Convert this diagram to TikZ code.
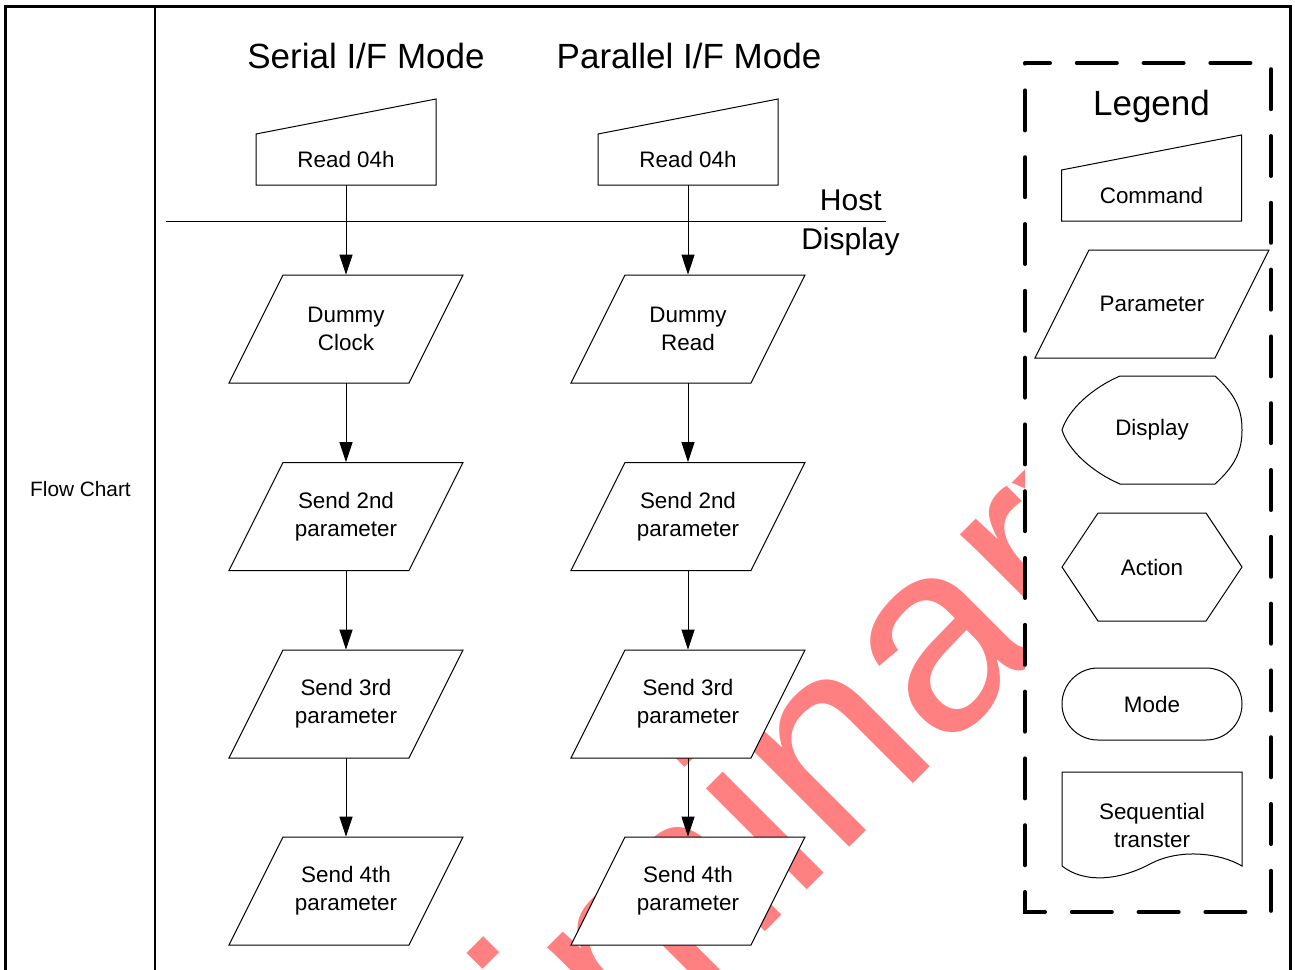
\documentclass[tikz,border=0pt]{standalone}
\usepackage{fontspec}
\setmainfont{Liberation Sans}
\usepackage{tikz}
\usetikzlibrary{arrows.meta}

\definecolor{wmred}{HTML}{FF8080}

\tikzset{
  lbl/.style={font=\fontsize{11.2}{14}\selectfont, align=center, inner sep=0pt},
  title/.style={font=\fontsize{17.5}{21}\selectfont, inner sep=0pt},
  side/.style={font=\fontsize{15}{18}\selectfont, inner sep=0pt},
  shape line/.style={draw=black, line width=0.5pt, fill=white},
  flow/.style={-{Triangle[length=10pt,width=6.5pt]}, line width=0.5pt},
  legend frame/.style={draw=black, fill=white, line width=2pt, line cap=round,
    dash pattern=on 20pt off 13.4pt, dash phase=7.5pt},
}

% command box: name, x, y, text
\newcommand{\cmdbox}[4]{%
  \draw[shape line] (#2-90,#3+25.5) -- (#2+90,#3+25.5) -- (#2+90,#3-60.5) -- (#2-90,#3-25.5) -- cycle;
  \node[lbl, minimum width=90pt, minimum height=25.5pt] (#1) at (#2,#3) {#4};}
% parameter box: name, x, y, text
\newcommand{\parambox}[4]{%
  \draw[shape line] (#2-117,#3+54) -- (#2+63,#3+54) -- (#2+117,#3-54) -- (#2-63,#3-54) -- cycle;
  \node[lbl, minimum width=63pt, minimum height=54pt] (#1) at (#2,#3) {#4};}

\begin{document}
\begin{tikzpicture}[x=0.5pt, y=-0.5pt]
\useasboundingbox (0,0) rectangle (1295,969);

% Watermark
\node[text=wmred, font=\fontsize{135}{135}\selectfont, inner sep=0pt,
  anchor=base west, rotate=45] (wm) at (253,1444) {Preliminary};

% Frame
\draw[line width=1.5pt] (5.5,975) -- (5.5,6.5) -- (1290,6.5) -- (1290,975);
\draw[line width=1pt] (155,6.5) -- (155,975);
\node[font=\fontsize{10.4}{12}\selectfont, inner sep=0pt] (fc) at (80.5,489) {Flow Chart};

% Titles
\node[title] (sertitle) at (366,56) {Serial I/F Mode};
\node[title] (partitle) at (689,56) {Parallel I/F Mode};

% Host / Display split
\draw[line width=0.5pt] (166,221) -- (886,221);
\node[side, anchor=east] (host) at (882,200) {Host};
\node[side] (disp) at (850.5,242) {Display};

% Serial column
\cmdbox{scmd}{346}{159.5}{Read 04h}
\parambox{s1}{346}{329}{Dummy\\Clock}
\parambox{s2}{346}{516.5}{Send 2nd\\parameter}
\parambox{s3}{346}{704}{Send 3rd\\parameter}
\parambox{s4}{346}{891}{Send 4th\\parameter}

% Parallel column
\cmdbox{pcmd}{688}{159.5}{Read 04h}
\parambox{p1}{688}{329}{Dummy\\Read}
\parambox{p2}{688}{516.5}{Send 2nd\\parameter}
\parambox{p3}{688}{704}{Send 3rd\\parameter}
\parambox{p4}{688}{891}{Send 4th\\parameter}

\draw[flow] (scmd) -- (s1);
\draw[flow] (s1) -- (s2);
\draw[flow] (s2) -- (s3);
\draw[flow] (s3) -- (s4);
\draw[flow] (pcmd) -- (p1);
\draw[flow] (p1) -- (p2);
\draw[flow] (p2) -- (p3);
\draw[flow] (p3) -- (p4);

% Legend
\draw[legend frame] (1025,63) -- (1271,63) -- (1271,912) -- (1025,912) -- cycle;
\node[title] (legtitle) at (1151.5,106) {Legend};
\cmdbox{lcmd}{1151.5}{195.5}{Command}
\parambox{lparam}{1152}{304}{Parameter}
\draw[shape line] (1120,376) -- (1215,376)
  .. controls (1236,395) and (1242,410) .. (1242,430)
  .. controls (1242,450) and (1236,465) .. (1215,484) -- (1120,484)
  .. controls (1092,472) and (1068,450) .. (1062,430)
  .. controls (1068,410) and (1092,388) .. (1120,376) -- cycle;
\node[lbl] (ldisp) at (1152,430) {Display};
\draw[shape line] (1062,567) -- (1098,513) -- (1206,513) -- (1242,567) -- (1206,621) -- (1098,621) -- cycle;
\node[lbl] (lact) at (1152,567) {Action};
\draw[shape line, rounded corners=18pt] (1062,668) rectangle (1242,740);
\node[lbl] (lmode) at (1152,704) {Mode};
\draw[shape line] (1062,772) -- (1242,772) -- (1242,866)
  .. controls (1220,853) and (1180,848) .. (1150,864)
  .. controls (1120,880) and (1085,884) .. (1062,866) -- cycle;
\node[lbl] (lseq) at (1152,825.5) {Sequential\\transter};

\end{tikzpicture}
\end{document}
